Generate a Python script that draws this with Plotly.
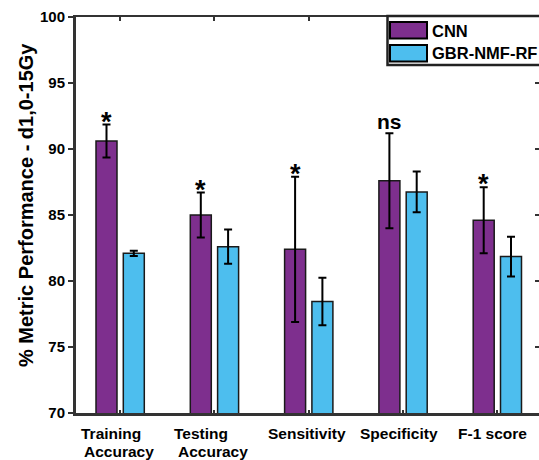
import plotly.graph_objects as go

# ---- data ----
categories_line1 = ["Training", "Testing", "Sensitivity", "Specificity", "F-1 score"]
categories_line2 = ["Accuracy", "Accuracy", "", "", ""]
cnn_values = [90.6, 85.0, 82.4, 87.6, 84.6]
cnn_errors = [1.25, 1.7, 5.5, 3.6, 2.5]
gbr_values = [82.1, 82.6, 78.45, 86.75, 81.85]
gbr_errors = [0.2, 1.3, 1.8, 1.55, 1.5]
significance = ["*", "*", "*", "ns", "*"]
series_names = ["CNN", "GBR-NMF-RF"]
y_ticks = [70, 75, 80, 85, 90, 95, 100]

# ---- style ----
FONT = "Liberation Sans, Arial, sans-serif"
CNN_COLOR = "#7E2F8E"
GBR_COLOR = "#4DBEEE"
AX = "#333333"
W, H = 539, 460
ML, MR, MT, MB = 76, 0, 17, 47
PW, PH = W - ML - MR, H - MT - MB
PX_PER_CAT = 94.3
x_pos = list(range(len(categories_line1)))
x_range = [-(120 - ML) / PX_PER_CAT, -(120 - ML) / PX_PER_CAT + PW / PX_PER_CAT]
BAR_W = 21 / PX_PER_CAT
CNN_OFF = -24 / PX_PER_CAT
GBR_OFF = 3.3 / PX_PER_CAT
line1_shift = [-9.5, -13, -2, -3.5, -5]
line2_shift = [-1.3, -1, 0, 0, 0]


def px_x(p):
    return (p - ML) / PW


def px_y(p):
    return (MT + PH - p) / PH


fig = go.Figure()
fig.add_trace(go.Bar(
    x=x_pos, y=cnn_values, name=series_names[0], width=BAR_W, offset=CNN_OFF,
    marker=dict(color=CNN_COLOR, line=dict(color="#1a1a1a", width=1.5)),
    error_y=dict(type="data", array=cnn_errors, color="black", thickness=2, width=4),
    showlegend=False,
))
fig.add_trace(go.Bar(
    x=x_pos, y=gbr_values, name=series_names[1], width=BAR_W, offset=GBR_OFF,
    marker=dict(color=GBR_COLOR, line=dict(color="#1a1a1a", width=1.5)),
    error_y=dict(type="data", array=gbr_errors, color="black", thickness=2, width=4),
    showlegend=False,
))
# dummy trace to register the mirrored (top/right) axes
fig.add_trace(go.Scatter(x=[None], y=[None], xaxis="x2", yaxis="y2",
                         showlegend=False, hoverinfo="skip"))

annotations = []
# significance marks
for i, s in enumerate(significance):
    cx = x_pos[i] + CNN_OFF + BAR_W / 2
    top = cnn_values[i] + cnn_errors[i]
    if s == "ns":
        annotations.append(dict(x=cx, y=top, xref="x", yref="y", text="<b>ns</b>",
                                showarrow=False, yanchor="middle", yshift=12,
                                font=dict(family=FONT, size=21, color="black")))
    else:
        annotations.append(dict(x=cx, y=top, xref="x", yref="y", text="<b>*</b>",
                                showarrow=False, yanchor="middle", yshift=3,
                                font=dict(family=FONT, size=27, color="black")))
# x category labels
for i in range(len(categories_line1)):
    annotations.append(dict(x=x_pos[i], y=px_y(433), xref="x", yref="paper",
                            text="<b>%s</b>" % categories_line1[i], showarrow=False,
                            xanchor="center", yanchor="middle", xshift=line1_shift[i],
                            font=dict(family=FONT, size=15.5, color="black")))
    if categories_line2[i]:
        annotations.append(dict(x=x_pos[i], y=px_y(452), xref="x", yref="paper",
                                text="<b>%s</b>" % categories_line2[i], showarrow=False,
                                xanchor="center", yanchor="middle", xshift=line2_shift[i],
                                font=dict(family=FONT, size=15.5, color="black")))
# y title
annotations.append(dict(x=px_x(26), y=px_y(205), xref="paper", yref="paper",
                        text="<b>% Metric Performance - d1,0-15Gy</b>", textangle=-90,
                        showarrow=False, xanchor="center", yanchor="middle",
                        font=dict(family=FONT, size=20, color="black")))
# legend texts
annotations.append(dict(x=px_x(430), y=px_y(31), xref="paper", yref="paper",
                        text="<b>%s</b>" % series_names[0], showarrow=False,
                        xanchor="left", yanchor="middle",
                        font=dict(family=FONT, size=16.5, color="black")))
annotations.append(dict(x=px_x(430), y=px_y(53.5), xref="paper", yref="paper",
                        text="<b>%s</b>" % series_names[1], showarrow=False,
                        xanchor="left", yanchor="middle",
                        font=dict(family=FONT, size=16.5, color="black")))

shapes = [
    dict(type="rect", xref="paper", yref="paper", x0=px_x(387.5), x1=px_x(560),
         y0=px_y(65), y1=px_y(16), fillcolor="white", line=dict(color="#222", width=2.5),
         layer="above"),
    dict(type="rect", xref="paper", yref="paper", x0=px_x(390), x1=px_x(427),
         y0=px_y(38.5), y1=px_y(22), fillcolor=CNN_COLOR, line=dict(color="black", width=2),
         layer="above"),
    dict(type="rect", xref="paper", yref="paper", x0=px_x(390), x1=px_x(427),
         y0=px_y(61.5), y1=px_y(45), fillcolor=GBR_COLOR, line=dict(color="black", width=2),
         layer="above"),
]

fig.update_layout(
    width=W, height=H,
    margin=dict(l=ML, r=MR, t=MT, b=MB, pad=0),
    paper_bgcolor="white", plot_bgcolor="white",
    barmode="overlay",
    font=dict(family=FONT, color="black"),
    xaxis=dict(range=x_range, tickvals=x_pos, showticklabels=False, ticks="inside",
               ticklen=3, tickwidth=2, tickcolor=AX, showline=True, linecolor=AX,
               linewidth=3, showgrid=False, zeroline=False, fixedrange=True),
    yaxis=dict(range=[70, 100], tickvals=y_ticks,
               ticktext=["<b>%d</b>" % v for v in y_ticks], ticks="outside",
               ticklen=5, tickwidth=2, tickcolor=AX, showline=True, linecolor=AX,
               linewidth=3, showgrid=False, zeroline=False,
               tickfont=dict(family=FONT, size=15, color="black")),
    xaxis2=dict(overlaying="x", side="top", range=x_range, tickvals=x_pos,
                showticklabels=False, ticks="inside", ticklen=4, tickwidth=2,
                tickcolor=AX, showline=True, linecolor=AX, linewidth=2,
                showgrid=False, zeroline=False),
    yaxis2=dict(overlaying="y", side="right", range=[70, 100], tickvals=y_ticks,
                showticklabels=False, ticks="inside", ticklen=4, tickwidth=2,
                tickcolor=AX, showline=True, linecolor=AX, linewidth=2,
                showgrid=False, zeroline=False),
    annotations=annotations,
    shapes=shapes,
)

fig.write_html("out.html")
